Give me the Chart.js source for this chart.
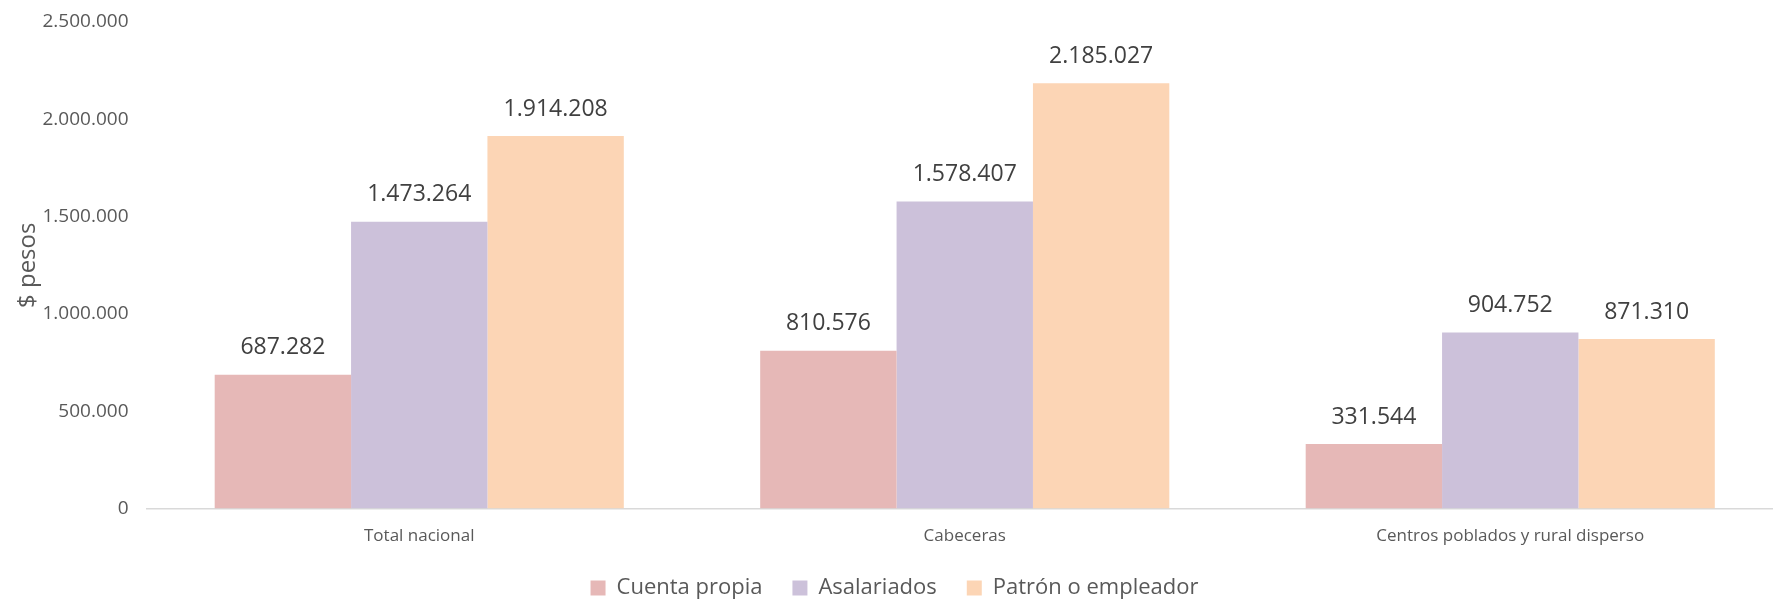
<!DOCTYPE html>
<html>
<head>
<meta charset="utf-8">
<script src="https://cdn.jsdelivr.net/npm/chart.js@4/dist/chart.umd.min.js"></script>
<style>
  html, body { margin: 0; padding: 0; background: #fff; overflow: hidden; width: 1773px; height: 599px; }
  #wrap { width: 1790px; height: 599px; position: relative; }
</style>
</head>
<body>
<div id="wrap"><canvas id="c"></canvas></div>
<script>
const categories = ['Total nacional', 'Cabeceras', 'Centros poblados y rural disperso'];
const seriesNames = ['Cuenta propia', 'Asalariados', 'Patrón o empleador'];
const cuentaPropia = [687282, 810576, 331544];
const asalariados = [1473264, 1578407, 904752];
const patron = [1914208, 2185027, 871310];
const yTickLabels = ['0', '500.000', '1.000.000', '1.500.000', '2.000.000', '2.500.000'];
const colors = ['#E6B8B7', '#CCC1DA', '#FCD5B5'];

function fmt(v) {
  return String(Math.round(v)).replace(/\B(?=(\d{3})+(?!\d))/g, '.');
}

const FONT = "'Open Sans', 'Noto Sans', sans-serif";

const dataLabels = {
  id: 'dataLabels',
  afterDatasetsDraw(chart) {
    const ctx = chart.ctx;
    ctx.save();
    ctx.font = '23px ' + FONT;
    ctx.fillStyle = '#404040';
    ctx.textAlign = 'center';
    ctx.textBaseline = 'middle';
    chart.data.datasets.forEach((ds, i) => {
      const meta = chart.getDatasetMeta(i);
      meta.data.forEach((bar, j) => {
        ctx.fillText(fmt(ds.data[j]), bar.x, bar.y - 27);
      });
    });
    ctx.restore();
  }
};

const legendFix = {
  id: 'legendFix',
  beforeLayout(chart) {
    const lg = chart.legend;
    if (lg && !lg._patched) {
      const f = lg.fit.bind(lg);
      lg.fit = function () { f(); this.height = 36; };
      lg._patched = true;
    }
  },
  afterLayout(chart) {
    const lg = chart.legend;
    lg.top = 588 - 30 - 11;
    lg.bottom = 599;
    lg.height = lg.bottom - lg.top;
    lg.left += 3; lg.right += 3;
  }
};

new Chart(document.getElementById('c'), {
  type: 'bar',
  data: {
    labels: categories,
    datasets: [
      { label: seriesNames[0], data: cuentaPropia, backgroundColor: colors[0] },
      { label: seriesNames[1], data: asalariados, backgroundColor: colors[1] },
      { label: seriesNames[2], data: patron, backgroundColor: colors[2] }
    ]
  },
  options: {
    responsive: true,
    maintainAspectRatio: false,
    animation: false,
    devicePixelRatio: 1,
    layout: { padding: { top: 22, right: 7, left: 0, bottom: 0 } },
    datasets: { bar: { categoryPercentage: 0.75, barPercentage: 1.0 } },
    plugins: {
      legend: {
        position: 'bottom',
        labels: {
          boxWidth: 15, boxHeight: 15, padding: 30,
          color: '#595959',
          font: { family: FONT, size: 22 }
        }
      },
      tooltip: { enabled: false }
    },
    scales: {
      x: {
        grid: { display: false, drawTicks: false },
        border: { display: true, color: '#D9D9D9', width: 1.5 },
        ticks: { color: '#595959', font: { family: FONT, size: 17 }, padding: 17 }
      },
      y: {
        min: 0, max: 2500000,
        grid: { display: false, drawTicks: false },
        border: { display: false },
        afterFit(scale) { scale.width = 146.5; scale.paddingTop = 0; },
        ticks: {
          stepSize: 500000,
          color: '#595959',
          font: { family: FONT, size: 19 },
          padding: 18,
          callback: (v, i) => yTickLabels[i]
        },
        title: {
          display: true, text: '$ pesos', color: '#595959',
          font: { family: FONT, size: 24 },
          padding: { top: 14, bottom: 0 }
        }
      }
    }
  },
  plugins: [dataLabels, legendFix]
});
</script>
</body>
</html>
